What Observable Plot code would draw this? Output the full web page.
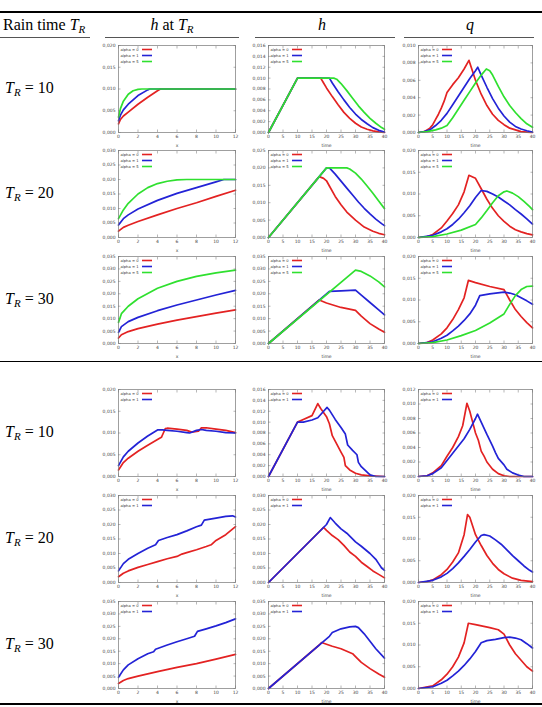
<!DOCTYPE html>
<html>
<head>
<meta charset="utf-8">
<script src="https://cdn.jsdelivr.net/npm/d3@7"></script>
<script src="https://cdn.jsdelivr.net/npm/@observablehq/plot@0.6"></script>
<style>
  body { margin: 0; background: #fff; }
  #page { position: relative; width: 542px; height: 707px; overflow: hidden; background: #fff;
          font-family: "Liberation Serif", "DejaVu Serif", serif; color: #000; }
  .rule { position: absolute; background: #000; }
  .hdr, .rowlab { position: absolute; white-space: nowrap; font-size: 16px; line-height: 16px; }
  .hdr { transform: translateX(-50%); }
  .cell { position: absolute; }
  i sub { font-size: 11px; }
  sub { font-style: italic; vertical-align: -3px; line-height: 0; }
</style>
</head>
<body>
<div id="page"></div>
<script>
// ---------- series (x or time, value) ----------
// Block 1: alpha = 0, 1, 5
// T_R = 10
const hxA10_0 = [[0,0.0020],[0.2,0.0030],[0.5,0.0038],[1,0.0047],[2,0.0065],[3,0.0081],[4,0.0096],[4.3,0.0100],[12,0.0100]];
const hxA10_1 = [[0,0.0027],[0.2,0.0040],[0.5,0.0052],[1,0.0065],[2,0.0085],[3,0.0098],[3.2,0.0100],[12,0.0100]];
const hxA10_5 = [[0,0.0035],[0.2,0.0055],[0.5,0.0072],[1,0.0088],[1.5,0.0096],[2,0.0099],[2.4,0.0100],[12,0.0100]];
const htA10_0 = [[0,0],[10,0.0100],[18,0.0100],[19,0.0091],[20,0.0082],[22,0.0066],[24,0.0051],[26,0.0037],[28,0.0026],[30,0.0017],[32,0.0010],[34,0.0006],[36,0.0003],[38,0.0001],[40,0]];
const htA10_1 = [[0,0],[10,0.0100],[21,0.0100],[22,0.0091],[24,0.0075],[26,0.0060],[28,0.0046],[30,0.0034],[32,0.0024],[34,0.0016],[36,0.0009],[38,0.0004],[40,0.0001]];
const htA10_5 = [[0,0],[10,0.0100],[22.5,0.0100],[23.5,0.0098],[25,0.0090],[27,0.0077],[29,0.0063],[31,0.0049],[33,0.0037],[35,0.0026],[37,0.0017],[39,0.0009],[40,0.0006]];
const qA10_0 = [[0,0],[2,0.0001],[4,0.0005],[5,0.0009],[6,0.0015],[7,0.0021],[8,0.0028],[9,0.0036],[10,0.0046],[12,0.0055],[14,0.0063],[16,0.0073],[17.7,0.0083],[18.5,0.0075],[20,0.0060],[22,0.0044],[24,0.0031],[26,0.0021],[28,0.0014],[30,0.0009],[32,0.0005],[34,0.0003],[36,0.0001],[38,0.00005],[40,0]];
const qA10_1 = [[0,0],[2,0.0001],[4,0.0003],[6,0.0008],[8,0.0014],[10,0.0022],[12,0.0032],[14,0.0042],[16,0.0052],[18,0.0062],[20,0.0071],[20.8,0.0075],[22,0.0066],[24,0.0052],[26,0.0039],[28,0.0028],[30,0.0019],[32,0.0012],[34,0.0007],[36,0.0004],[38,0.0002],[40,0.00005]];
const qA10_5 = [[0,0],[3,0.0001],[6,0.0003],[8,0.0005],[10,0.0008],[12,0.0017],[14,0.0027],[16,0.0037],[18,0.0047],[20,0.0057],[22,0.0066],[23.8,0.0073],[25,0.0071],[26,0.0066],[28,0.0053],[30,0.0041],[32,0.0031],[34,0.0023],[36,0.0016],[38,0.0010],[40,0.0006]];
// T_R = 20
const hxA20_0 = [[0,0.0022],[0.5,0.0035],[1,0.0042],[2,0.0055],[4,0.0078],[6,0.0100],[8,0.0120],[10,0.0142],[12,0.0163]];
const hxA20_1 = [[0,0.0043],[0.5,0.0065],[1,0.0078],[2,0.0098],[4,0.0128],[6,0.0152],[8,0.0172],[10,0.0192],[10.8,0.0200],[12,0.0200]];
const hxA20_5 = [[0,0.0065],[0.5,0.0095],[1,0.0118],[2,0.0150],[3,0.0172],[4,0.0186],[5,0.0194],[6,0.0199],[7,0.0200],[12,0.0200]];
const htA20_0 = [[0,0],[17.5,0.0175],[19,0.0170],[20,0.0163],[21,0.0148],[23,0.0118],[25,0.0094],[27,0.0073],[30,0.0050],[33,0.0030],[36,0.0018],[38,0.0012],[40,0.0008]];
const htA20_1 = [[0,0],[20,0.0200],[21,0.0200],[23,0.0182],[25,0.0162],[27,0.0142],[29,0.0122],[31,0.0102],[33,0.0084],[35,0.0068],[37,0.0053],[39,0.0040],[40,0.0034]];
const htA20_5 = [[0,0],[20,0.0200],[27,0.0200],[28,0.0197],[30,0.0185],[32,0.0168],[34,0.0148],[36,0.0127],[38,0.0105],[40,0.0083]];
const qA20_0 = [[0,0],[3,0.0002],[5,0.0007],[8,0.0022],[10,0.0038],[12,0.0055],[14,0.0075],[16,0.0105],[17.7,0.0143],[19,0.0139],[20,0.0136],[22,0.0112],[24,0.0088],[26,0.0067],[28,0.0050],[30,0.0037],[32,0.0026],[34,0.0018],[36,0.0013],[38,0.0009],[40,0.0006]];
const qA20_1 = [[0,0],[5,0.0005],[8,0.0013],[10,0.0020],[12,0.0030],[14,0.0042],[16,0.0057],[18,0.0073],[20,0.0092],[22,0.0108],[24,0.0106],[26,0.0100],[28,0.0093],[30,0.0084],[32,0.0075],[34,0.0064],[36,0.0054],[38,0.0043],[40,0.0031]];
const qA20_5 = [[0,0],[5,0.0002],[10,0.0008],[15,0.0017],[20,0.0030],[22,0.0045],[24,0.0062],[26,0.0080],[28,0.0096],[30,0.0105],[31,0.0107],[33,0.0102],[35,0.0094],[37,0.0083],[39,0.0071],[40,0.0064]];
// T_R = 30
const hxA30_0 = [[0,0.0022],[0.3,0.0035],[1,0.0048],[2,0.0060],[4,0.0078],[6,0.0094],[8,0.0108],[10,0.0122],[12,0.0135]];
const hxA30_1 = [[0,0.0045],[0.3,0.0068],[1,0.0088],[2,0.0105],[4,0.0132],[6,0.0155],[8,0.0175],[10,0.0195],[12,0.0214]];
const hxA30_5 = [[0,0.0085],[0.3,0.0120],[1,0.0150],[2,0.0180],[4,0.0222],[6,0.0250],[8,0.0270],[10,0.0284],[12,0.0295]];
const htA30_0 = [[0,0],[17.5,0.0175],[20,0.0163],[25,0.0145],[30,0.0133],[32,0.0110],[35,0.0080],[38,0.0058],[40,0.0045]];
const htA30_1 = [[0,0],[21,0.0210],[25,0.0212],[30,0.0215],[32,0.0195],[35,0.0165],[38,0.0135],[40,0.0115]];
const htA30_5 = [[0,0],[30,0.0295],[32,0.0290],[35,0.0272],[38,0.0248],[40,0.0228]];
const qA30_0 = [[0,0],[3,0.0002],[5,0.0008],[8,0.0022],[10,0.0036],[12,0.0055],[14,0.0078],[16,0.0105],[17.5,0.0145],[20,0.0140],[25,0.0131],[30,0.0124],[32,0.0100],[34,0.0078],[36,0.0062],[38,0.0048],[40,0.0036]];
const qA30_1 = [[0,0],[5,0.0004],[8,0.0012],[10,0.0019],[12,0.0029],[14,0.0040],[16,0.0053],[18,0.0068],[20,0.0088],[21.5,0.0110],[25,0.0114],[30,0.0118],[32,0.0116],[34,0.0112],[36,0.0105],[38,0.0098],[40,0.0090]];
const qA30_5 = [[0,0],[5,0.0002],[10,0.0008],[15,0.0018],[20,0.0030],[25,0.0047],[30,0.0068],[32,0.0090],[34,0.0110],[36,0.0124],[38,0.0131],[40,0.0132]];

// Block 2: alpha = 0, 1
// T_R = 10
const hxB10_0 = [[0,0.0015],[0.5,0.0032],[1,0.0042],[2,0.0058],[3,0.0072],[4,0.0085],[4.4,0.0090],[4.6,0.0100],[4.8,0.0110],[5,0.0111],[6,0.0109],[7,0.0106],[7.5,0.0102],[8.2,0.0104],[8.5,0.0112],[9,0.0112],[10,0.0109],[11,0.0106],[12,0.0101]];
const hxB10_1 = [[0,0.0025],[0.5,0.0045],[1,0.0058],[2,0.0077],[3,0.0093],[4,0.0107],[4.5,0.0107],[5,0.0106],[6,0.0104],[7,0.0101],[7.3,0.0100],[8,0.0106],[8.5,0.0108],[9,0.0106],[10,0.0104],[11,0.0101],[12,0.0100]];
const htB10_0 = [[0,0],[10,0.0100],[12,0.0105],[15,0.0112],[17,0.0134],[18,0.0125],[20,0.0110],[21,0.0097],[22,0.0075],[23,0.0065],[25,0.0045],[26,0.0035],[26.5,0.0020],[28,0.0012],[30,0.0006],[32,0.0003],[35,0.0001],[40,0]];
const htB10_1 = [[0,0],[10,0.0100],[12,0.0100],[15,0.0104],[17,0.0108],[19,0.0120],[20.2,0.0127],[21,0.0122],[23,0.0105],[25,0.0090],[26.5,0.0078],[27.3,0.0058],[29,0.0048],[30.5,0.0040],[31,0.0026],[32,0.0018],[34,0.0008],[35,0.0003],[37,0],[40,0]];
const qB10_0 = [[0,0],[3,0.0001],[5,0.0005],[8,0.0015],[10,0.0028],[12,0.0040],[14,0.0055],[15.5,0.0070],[17,0.0101],[18,0.0090],[19,0.0075],[20,0.0060],[21,0.0050],[22,0.0035],[23,0.0028],[24,0.0020],[26,0.0010],[28,0.0004],[30,0.0001],[32,0],[40,0]];
const qB10_1 = [[0,0],[3,0.0001],[5,0.0004],[8,0.0012],[10,0.0022],[12,0.0032],[14,0.0042],[16,0.0052],[18,0.0065],[20,0.0080],[20.7,0.0086],[22,0.0075],[24,0.0058],[26,0.0042],[27,0.0033],[28,0.0025],[30,0.0016],[31,0.0010],[33,0.0005],[35,0.0002],[37,0],[40,0]];
// T_R = 20
const hxB20_0 = [[0,0.0020],[0.5,0.0032],[1,0.0040],[2,0.0052],[3,0.0062],[4,0.0072],[5,0.0082],[6,0.0090],[6.5,0.0098],[7,0.0103],[8,0.0113],[9,0.0124],[9.5,0.0130],[10,0.0145],[11,0.0165],[12,0.0193]];
const hxB20_1 = [[0,0.0040],[0.5,0.0065],[1,0.0080],[2,0.0100],[3,0.0118],[3.8,0.0130],[4.1,0.0145],[5,0.0155],[6,0.0165],[7,0.0178],[8,0.0192],[8.5,0.0198],[8.8,0.0215],[10,0.0222],[11,0.0228],[11.7,0.0230],[12,0.0226]];
const htB20_0 = [[0,0],[17.5,0.0175],[19,0.0190],[20,0.0180],[22,0.0162],[24,0.0148],[26,0.0128],[28,0.0105],[30,0.0090],[32,0.0070],[34,0.0055],[36,0.0040],[38,0.0028],[40,0.0016]];
const htB20_1 = [[0,0],[20,0.0200],[21.3,0.0224],[23,0.0205],[25,0.0185],[27,0.0170],[30,0.0140],[32,0.0125],[35,0.0100],[37,0.0080],[38,0.0065],[39,0.0050],[40,0.0042]];
const qB20_0 = [[0,0],[3,0.0002],[5,0.0006],[8,0.0018],[10,0.0030],[12,0.0047],[14,0.0068],[16,0.0110],[17.2,0.0156],[18,0.0150],[19,0.0130],[20,0.0110],[22,0.0085],[24,0.0062],[26,0.0044],[28,0.0030],[30,0.0020],[33,0.0010],[36,0.0005],[40,0.0002]];
const qB20_1 = [[0,0],[5,0.0005],[8,0.0013],[10,0.0021],[12,0.0032],[14,0.0045],[16,0.0060],[18,0.0076],[20,0.0093],[22,0.0108],[23,0.0110],[25,0.0107],[27,0.0098],[29,0.0088],[31,0.0075],[33,0.0062],[35,0.0050],[37,0.0038],[39,0.0028],[40,0.0024]];
// T_R = 30
const hxB30_0 = [[0,0.0020],[0.5,0.0032],[1,0.0040],[2,0.0050],[4,0.0068],[6,0.0085],[8,0.0100],[10,0.0118],[12,0.0137]];
const hxB30_1 = [[0,0.0045],[0.5,0.0075],[1,0.0095],[2,0.0120],[3,0.0140],[3.6,0.0148],[3.8,0.0158],[5,0.0175],[6,0.0188],[7,0.0200],[7.8,0.0210],[8.1,0.0230],[9,0.0240],[10,0.0252],[11,0.0265],[12,0.0280]];
const htB30_0 = [[0,0],[17.5,0.0175],[18.3,0.0185],[20,0.0178],[22,0.0170],[25,0.0160],[27,0.0150],[29,0.0140],[30,0.0128],[32,0.0105],[35,0.0080],[38,0.0058],[40,0.0045]];
const htB30_1 = [[0,0],[21,0.0210],[22,0.0225],[25,0.0240],[28,0.0248],[30,0.0250],[31,0.0245],[33,0.0220],[35,0.0190],[37,0.0160],[40,0.0122]];
const qB30_0 = [[0,0],[5,0.0006],[8,0.0020],[10,0.0033],[12,0.0050],[14,0.0072],[16,0.0105],[17.5,0.0150],[20,0.0147],[25,0.0140],[28,0.0135],[30,0.0125],[32,0.0100],[34,0.0080],[36,0.0065],[38,0.0050],[40,0.0040]];
const qB30_1 = [[0,0],[5,0.0004],[8,0.0012],[10,0.0019],[12,0.0029],[14,0.0040],[16,0.0053],[18,0.0068],[20,0.0085],[22,0.0105],[24,0.0110],[27,0.0113],[30,0.0117],[32,0.0118],[34,0.0116],[36,0.0112],[38,0.0103],[40,0.0093]];

// ---------- labels ----------
const alphasA = ["alpha = 0", "alpha = 1", "alpha = 5"];
const alphasB = ["alpha = 0", "alpha = 1"];
const rainTimes = [10, 20, 30];
const xTicksSpace = [0, 2, 4, 6, 8, 10, 12];
const xTicksTime = [0, 5, 10, 15, 20, 25, 30, 35, 40];
const seriesColors = ["#e32222", "#2323d6", "#2fe02f"];

// y-axis extent and step, per panel (rows of [h at T_R, h, q])
const yTopA = [[0.020, 0.016, 0.010], [0.030, 0.025, 0.020], [0.035, 0.035, 0.020]];
const yStepA = [[0.005, 0.002, 0.002], [0.005, 0.005, 0.005], [0.005, 0.005, 0.005]];
const yTopB = [[0.020, 0.016, 0.012], [0.030, 0.030, 0.020], [0.035, 0.035, 0.020]];
const yStepB = [[0.005, 0.002, 0.002], [0.005, 0.005, 0.005], [0.005, 0.005, 0.005]];

const rowsA = [[[hxA10_0, hxA10_1, hxA10_5], [htA10_0, htA10_1, htA10_5], [qA10_0, qA10_1, qA10_5]],
               [[hxA20_0, hxA20_1, hxA20_5], [htA20_0, htA20_1, htA20_5], [qA20_0, qA20_1, qA20_5]],
               [[hxA30_0, hxA30_1, hxA30_5], [htA30_0, htA30_1, htA30_5], [qA30_0, qA30_1, qA30_5]]];
const rowsB = [[[hxB10_0, hxB10_1], [htB10_0, htB10_1], [qB10_0, qB10_1]],
               [[hxB20_0, hxB20_1], [htB20_0, htB20_1], [qB20_0, qB20_1]],
               [[hxB30_0, hxB30_1], [htB30_0, htB30_1], [qB30_0, qB30_1]]];

// ---------- layout ----------
const COL_L = [118, 268, 418];
const COL_W = [117, 116, 114];
const ROW_T = [45, 150, 256, 389, 495, 601];
const FH = 87;
const ML = 22, MR = 4, MT = 3, MB = 18;

const page = document.getElementById("page");
const fmtY = v => v.toFixed(3).replace(".", ",");

function addRule(top, left, width, thick, color) {
  const d = document.createElement("div");
  d.className = "rule";
  Object.assign(d.style, {top: top + "px", left: left + "px", width: width + "px", height: thick + "px", background: color || "#000"});
  page.appendChild(d);
}
function addHtml(cls, html, left, top) {
  const d = document.createElement("div");
  d.className = cls;
  d.innerHTML = html;
  d.style.left = left + "px";
  d.style.top = top + "px";
  page.appendChild(d);
  return d;
}

// legend drawn in the top-left corner of the frame
function legendMark(names) {
  return (index, scales, values, dims) => {
    const g = d3.create("svg:g").attr("font-size", 3.7).attr("fill", "#333")
      .attr("text-anchor", "start").attr("font-family", "DejaVu Sans, sans-serif");
    names.forEach((n, i) => {
      const y = dims.marginTop + 4.5 + i * 6;
      g.append("text").attr("x", dims.marginLeft + 2.5).attr("y", y).attr("dy", "0.35em").text(n);
      g.append("line").attr("x1", dims.marginLeft + 24).attr("x2", dims.marginLeft + 34)
        .attr("y1", y).attr("y2", y).attr("stroke", seriesColors[i]).attr("stroke-width", 1.6);
    });
    return g.node();
  };
}

function panel(series, names, col, yTop, yStep) {
  const spatial = col === 0;
  const xTicks = spatial ? xTicksSpace : xTicksTime;
  const xMax = xTicks[xTicks.length - 1];
  const yTicks = d3.range(0, Math.round(yTop / yStep) + 1).map(i => +(i * yStep).toFixed(4));
  const w = COL_W[col];
  const tick = {tickSize: -2.5, stroke: "#888", strokeWidth: 0.6};
  const lines = series.map((pts, i) =>
    Plot.line(pts, {x: d => d[0], y: d => d[1], stroke: seriesColors[i], strokeWidth: 1.7, curve: "linear"}));
  return Plot.plot({
    width: w + ML + MR, height: FH + MT + MB,
    marginLeft: ML, marginRight: MR, marginTop: MT, marginBottom: MB,
    style: {fontSize: "4.5px", fontFamily: "DejaVu Sans, sans-serif", color: "#444", background: "transparent"},
    x: {domain: [0, xMax]},
    y: {domain: [0, yTop]},
    marks: [
      Plot.axisY(yTicks, {anchor: "left", ...tick, tickPadding: 5.5, tickFormat: fmtY, label: null, fill: "#444"}),
      Plot.axisY(yTicks, {anchor: "right", ...tick, tickFormat: () => "", label: null}),
      Plot.axisX(xTicks, {anchor: "bottom", ...tick, tickPadding: 5, tickFormat: d => String(d), label: null, fill: "#444"}),
      Plot.axisX(xTicks, {anchor: "top", ...tick, tickFormat: () => "", label: null}),
      ...lines,
      Plot.frame({stroke: "#777", strokeWidth: 0.7}),
      Plot.text([spatial ? "x" : "time"], {frameAnchor: "bottom", dy: 14, text: d => d, fill: "#444"}),
      legendMark(names)
    ]
  });
}

// ---------- table rules and headings ----------
addRule(11, 0, 542, 1.6);
addHtml("rowlab", "Rain time <i>T<sub>R</sub></i>", 3, 17);
addHtml("hdr", "<i>h</i> at <i>T<sub>R</sub></i>", 172, 17);
addHtml("hdr", "<i>h</i>", 322, 17);
addHtml("hdr", "<i>q</i>", 470, 17);
addRule(37, 0, 90, 1, "#555");
addRule(37, 105, 134, 1, "#555");
addRule(37, 255, 140, 1, "#555");
addRule(37, 404, 130, 1, "#555");
addRule(361, 0, 542, 1);
addRule(703, 0, 542, 1.6);

// ---------- cells ----------
[[rowsA, alphasA, yTopA, yStepA, 0], [rowsB, alphasB, yTopB, yStepB, 3]].forEach(([rows, names, tops, steps, r0]) => {
  rows.forEach((row, r) => {
    const top = ROW_T[r0 + r];
    addHtml("rowlab", `<i>T<sub>R</sub></i> = ${rainTimes[r]}`, 5, top + FH / 2 - 9);
    row.forEach((series, c) => {
      const node = panel(series, names, c, tops[r][c], steps[r][c]);
      const holder = document.createElement("div");
      holder.className = "cell";
      holder.style.left = (COL_L[c] - ML) + "px";
      holder.style.top = (top - MT) + "px";
      holder.appendChild(node);
      page.appendChild(holder);
    });
  });
});
</script>
</body>
</html>
